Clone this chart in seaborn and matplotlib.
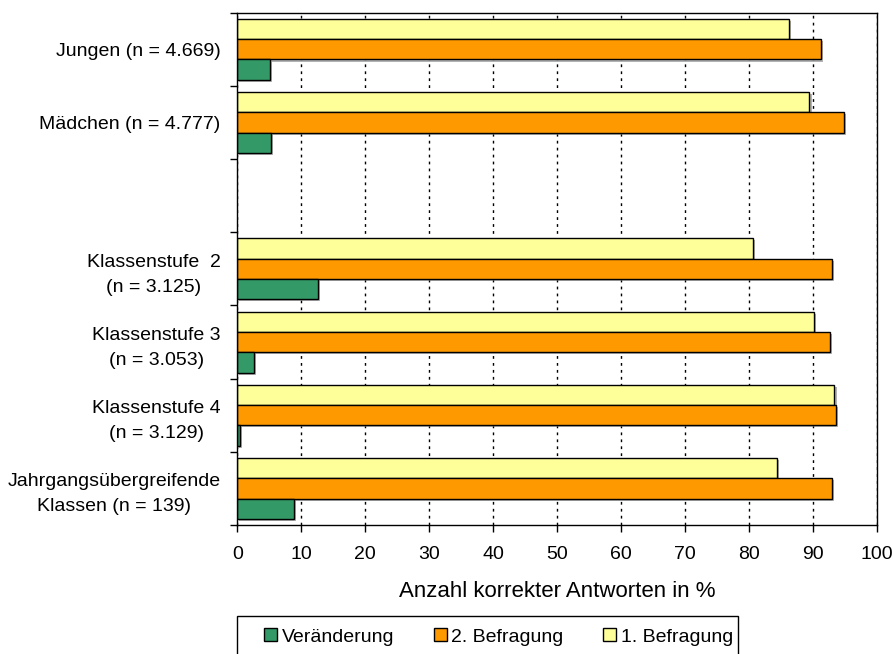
import pandas as pd
import matplotlib.pyplot as plt
import matplotlib.patheffects as pe
from matplotlib.patches import Rectangle, Patch
from matplotlib.ticker import FixedLocator
import seaborn as sns

sns.set_style('ticks')
plt.rcParams['font.family'] = ['Liberation Sans', 'DejaVu Sans']
plt.rcParams['text.color'] = 'black'

# data
groups = ['Jungen (n = 4.669)', 'Mädchen (n = 4.777)',
          'Klassenstufe  2\n(n = 3.125)', 'Klassenstufe 3\n(n = 3.053)',
          'Klassenstufe 4\n(n = 3.129)', 'Jahrgangsübergreifende\nKlassen (n = 139)']
befragung1 = [86.2, 89.4, 80.5, 90.1, 93.3, 84.3]
befragung2 = [91.2, 94.8, 92.9, 92.6, 93.6, 92.9]
veraenderung = [5.1, 5.3, 12.6, 2.6, 0.4, 8.8]

series = ['1. Befragung', '2. Befragung', 'Veränderung']
colors = {'1. Befragung': '#FFFF99', '2. Befragung': '#FF9900', 'Veränderung': '#339966'}

df = pd.DataFrame({
    'Gruppe': groups * 3,
    'Serie': [s for s in series for _ in groups],
    'Wert': befragung1 + befragung2 + veraenderung,
})
order = groups[:2] + [' '] + groups[2:]   # leerer Platz zwischen den Blöcken

fig = plt.figure(figsize=(8.93, 6.54), dpi=100)
ax = fig.add_axes([237.3 / 893, 1 - 525 / 654, 640 / 893, (525 - 12.7) / 654])

sns.barplot(data=df, y='Gruppe', x='Wert', hue='Serie', order=order, hue_order=series,
            palette=colors, saturation=1, width=0.833, orient='h',
            edgecolor='black', linewidth=1, ax=ax, legend=False)

for bar in ax.patches:
    bar.set_path_effects([pe.SimplePatchShadow(offset=(1.5, -1.5), shadow_rgbFace='#808080', alpha=0.6),
                          pe.Normal()])

ax.set_xlim(0, 100)
ax.set_ylim(6.5, -0.5)
ax.set_xticks(range(0, 101, 10))
ax.xaxis.grid(True, color='black', linestyle=(0, (2, 3)), linewidth=1)
ax.set_axisbelow(True)

ax.set_yticks(range(len(order)))
ax.set_yticklabels(order)
for t in ax.get_yticklabels():
    t.set_multialignment('center')
    t.set_linespacing(1.6)
ax.yaxis.set_minor_locator(FixedLocator([i - 0.5 for i in range(len(order) + 1)]))
ax.tick_params(axis='y', which='major', length=0, pad=12, labelsize=14, colors='black')
ax.tick_params(axis='y', which='minor', length=5, width=1, color='black', direction='out')
ax.tick_params(axis='x', length=5, width=1, pad=10, labelsize=14, colors='black')

for s in ax.spines.values():
    s.set_visible(True)
    s.set_color('black')
    s.set_linewidth(1)

ax.set_ylabel('')
ax.set_xlabel('Anzahl korrekter Antworten in %', fontsize=16, labelpad=13, color='black')

# legend box runs off the bottom edge like in the original
fig.patches.append(Rectangle((237 / 893, -0.02), 501 / 893, (654 - 616) / 654 + 0.02,
                             transform=fig.transFigure, fill=False, ec='black', lw=1))
handles = [Patch(facecolor=colors[s], edgecolor='black', linewidth=1) for s in series[::-1]]
fig.legend(handles, series[::-1], loc='center left', bbox_to_anchor=(264 / 893, 1 - 637 / 654),
           ncol=3, frameon=False, fontsize=14, borderpad=0, borderaxespad=0,
           handlelength=0.65, handleheight=0.65, handletextpad=0.25, columnspacing=2.05)

plt.savefig('out.png', dpi=100)
